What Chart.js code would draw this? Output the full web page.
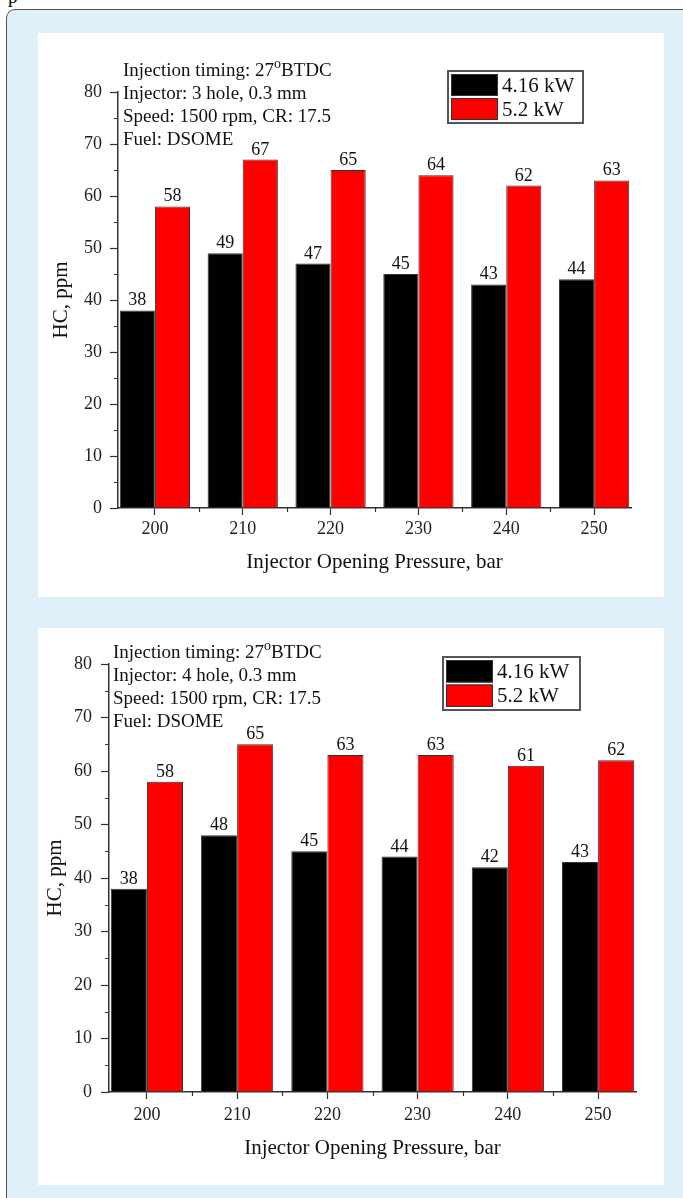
<!DOCTYPE html>
<html>
<head>
<meta charset="utf-8">
<script src="https://cdn.jsdelivr.net/npm/chart.js@4.4.1/dist/chart.umd.min.js"></script>
<style>
html, body { margin: 0; padding: 0; }
body { width: 683px; height: 1198px; overflow: hidden; position: relative; background: #fff; font-family: "Liberation Serif", serif; }
.cap { position: absolute; left: 8px; top: -14px; font-size: 19px; color: #000; }
.frame { position: absolute; left: 6px; top: 9px; width: 700px; height: 1210px; background: #dff0fa; border: 1px solid #555; border-radius: 9px; }
.panel { position: absolute; left: 38px; width: 626px; background: #fff; }
#p1 { top: 33px; height: 564px; }
#p2 { top: 628px; height: 557px; }
canvas { display: block; }
</style>
</head>
<body>
<div class="cap">p</div>
<div class="frame"></div>
<div class="panel" id="p1"><canvas id="chart3hole" width="626" height="564"></canvas></div>
<div class="panel" id="p2"><canvas id="chart4hole" width="626" height="557"></canvas></div>

<script>
// ---- data ----
const pressures = [200, 210, 220, 230, 240, 250];
const seriesLabels = ['4.16 kW', '5.2 kW'];
const seriesColors = ['#000000', '#ff0000'];

const hc3hole_416 = [38, 49, 47, 45, 43, 44];
const hc3hole_52  = [58, 67, 65, 64, 62, 63];
const hc4hole_416 = [38, 48, 45, 44, 42, 43];
const hc4hole_52  = [58, 65, 63, 63, 61, 62];

const yTicks = [0, 10, 20, 30, 40, 50, 60, 70, 80];
const yMinor = [5, 15, 25, 35, 45, 55, 65, 75];
const xMinor = [205, 215, 225, 235, 245];

const notes3hole = ['Injection timing: 27^oBTDC', 'Injector: 3 hole, 0.3 mm', 'Speed: 1500 rpm, CR: 17.5', 'Fuel: DSOME'];
const notes4hole = ['Injection timing: 27^oBTDC', 'Injector: 4 hole, 0.3 mm', 'Speed: 1500 rpm, CR: 17.5', 'Fuel: DSOME'];

const xTitle = 'Injector Opening Pressure, bar';
const yTitle = 'HC, ppm';

const SERIF = '"Liberation Serif", "Times New Roman", serif';
const AXIS = '#333';

// minor ticks, value labels, text block and legend box
const extrasPlugin = {
    id: 'extras',
    afterDatasetsDraw(chart, args, opts) {
        const ctx = chart.ctx;
        const x = chart.scales.x, y = chart.scales.y;
        ctx.save();
        // minor ticks
        ctx.strokeStyle = AXIS;
        ctx.lineWidth = 1.2;
        ctx.beginPath();
        yMinor.forEach(v => {
            const py = Math.round(y.getPixelForValue(v)) + 0.5;
            ctx.moveTo(x.left - 4, py);
            ctx.lineTo(x.left, py);
        });
        xMinor.forEach(v => {
            const px = Math.round(x.getPixelForValue(v)) + 0.5;
            ctx.moveTo(px, y.bottom);
            ctx.lineTo(px, y.bottom + 4);
        });
        ctx.stroke();

        // value labels above bars
        ctx.fillStyle = '#111';
        ctx.font = '18px ' + SERIF;
        ctx.textAlign = 'center';
        ctx.textBaseline = 'alphabetic';
        chart.data.datasets.forEach((ds, di) => {
            chart.getDatasetMeta(di).data.forEach((bar, i) => {
                ctx.fillText(String(ds.data[i].y), bar.x, bar.y - 5);
            });
        });

        // text block
        ctx.textAlign = 'left';
        ctx.font = '19px ' + SERIF;
        opts.notes.forEach((line, i) => {
            const ty = opts.notesY + i * opts.notesGap;
            const parts = line.split(/\^(\w)/);
            let tx = opts.notesX;
            parts.forEach((p, k) => {
                if (k % 2 === 1) {
                    ctx.font = '14px ' + SERIF;
                    ctx.fillText(p, tx, ty - 8);
                    tx += ctx.measureText(p).width;
                    ctx.font = '19px ' + SERIF;
                } else {
                    ctx.fillText(p, tx, ty);
                    tx += ctx.measureText(p).width;
                }
            });
        });

        // legend box
        const L = opts.legend;
        ctx.fillStyle = '#fff';
        ctx.fillRect(L.x, L.y, L.w, L.h);
        ctx.strokeStyle = '#555';
        ctx.lineWidth = 2;
        ctx.strokeRect(L.x, L.y, L.w, L.h);
        const rowH = (L.h - 4) / 2;
        ctx.font = '21px ' + SERIF;
        ctx.textBaseline = 'middle';
        chart.data.datasets.forEach((ds, di) => {
            const ry = L.y + 2 + di * rowH;
            ctx.fillStyle = ds.backgroundColor;
            ctx.fillRect(L.x + 3, ry + 1, 47, rowH - 2);
            ctx.strokeStyle = AXIS;
            ctx.lineWidth = 1;
            ctx.strokeRect(L.x + 3.5, ry + 1.5, 46, rowH - 3);
            ctx.fillStyle = '#111';
            ctx.fillText(ds.label, L.x + 54, ry + rowH / 2 + 1);
        });
        ctx.restore();
    }
};

function makeChart(id, data416, data52, notes, g) {
    const datasets = [data416, data52].map((vals, k) => ({
        label: seriesLabels[k],
        data: pressures.map((p, i) => ({ x: p, y: vals[i] })),
        backgroundColor: seriesColors[k],
        borderColor: AXIS,
        borderWidth: 1,
        categoryPercentage: 0.8,
        barPercentage: 1.0
    }));

    new Chart(document.getElementById(id).getContext('2d'), {
        type: 'bar',
        data: { datasets: datasets },
        plugins: [extrasPlugin],
        options: {
            responsive: false,
            animation: false,
            devicePixelRatio: 1,
            layout: { padding: { top: g.padTop, right: g.padRight, left: 0, bottom: 0 } },
            plugins: {
                legend: { display: false },
                tooltip: { enabled: false },
                extras: { notes: notes, notesX: g.notesX, notesY: g.notesY, notesGap: 23, legend: g.legend }
            },
            scales: {
                x: {
                    type: 'linear',
                    min: 195.8,
                    max: 254.2,
                    offset: false,
                    grid: { offset: false, drawOnChartArea: false, tickLength: 7, tickColor: AXIS, tickWidth: 1.2 },
                    border: { color: AXIS, width: 1.5 },
                    afterBuildTicks: s => { s.ticks = pressures.map(v => ({ value: v })); },
                    afterFit: s => { s.height = g.xH; },
                    ticks: { color: '#222', font: { family: SERIF, size: 18 }, padding: g.xPad, maxRotation: 0 },
                    title: { display: true, text: xTitle, color: '#111', font: { family: SERIF, size: 21 }, padding: { top: 0, bottom: g.xTitlePad } }
                },
                y: {
                    min: 0,
                    max: 80,
                    grid: { drawOnChartArea: false, tickLength: 8, tickColor: AXIS, tickWidth: 1.2 },
                    border: { color: AXIS, width: 1.5 },
                    afterBuildTicks: s => { s.ticks = yTicks.map(v => ({ value: v })); },
                    afterFit: s => { s.width = g.yW; },
                    ticks: { color: '#222', font: { family: SERIF, size: 18 }, padding: g.yPad },
                    title: { display: true, text: yTitle, color: '#111', font: { family: SERIF, size: 21 }, padding: { top: g.yTitlePad, bottom: 0 } }
                }
            }
        }
    });
}

makeChart('chart3hole', hc3hole_416, hc3hole_52, notes3hole, {
    padTop: 59, padRight: 33, yW: 80, xH: 89, xPad: 3, yPad: 8, xTitlePad: 22, yTitlePad: 11,
    notesX: 85, notesY: 43, legend: { x: 410, y: 38, w: 135, h: 52 }
});

makeChart('chart4hole', hc4hole_416, hc4hole_52, notes4hole, {
    padTop: 36, padRight: 28, yW: 71, xH: 93, xPad: 5, yPad: 9, xTitlePad: 24, yTitlePad: 5,
    notesX: 75, notesY: 30, legend: { x: 405, y: 29, w: 137, h: 53 }
});
</script>
</body>
</html>
